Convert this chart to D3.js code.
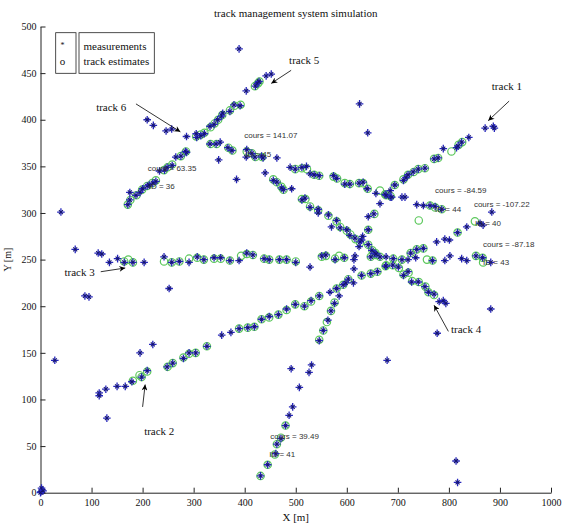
<!DOCTYPE html>
<html><head><meta charset="utf-8">
<script src="https://cdn.jsdelivr.net/npm/d3@7"></script>
<style>
html,body{margin:0;padding:0;background:#fff;}
svg{display:block;}
</style></head>
<body>
<svg id="chart" width="567" height="525"></svg>
<script>
// ---------- DATA ----------
const titleText = "track management system simulation";
const xTicks = [0,100,200,300,400,500,600,700,800,900,1000];
const yTicks = [0,50,100,150,200,250,300,350,400,450,500];

// track A (tracks 5/6 SW-NE line)
const measA = [[171,309],[175,314],[175,322],[187,319],[195,322],[200,326],[209,329],[213,330],[220,332],[226,334],[233,345],[243,346],[248,349],[258,351],[265,360],[275,361],[284,366],[286,365],[306,381],[305,385],[314,383],[321,385],[332,393],[340,395],[347,400],[355,404],[357,407],[371,409],[379,416],[391,415],[403,431],[421,436],[425,439],[428,441],[442,447],[452,449]];
const estA = [[171,309],[176,314],[188,319],[199,325],[209,329],[219,332],[226,335],[242,346],[249,349],[258,352],[275,361],[285,366],[305,382],[314,384],[321,386],[333,392],[341,396],[348,400],[356,405],[371,410],[380,415],[392,416],[420,436],[426,439],[429,441]];

// track B (track 6 -> track 4)
const measB = [[209,400],[221,394],[246,388],[257,390],[286,382],[332,374],[344,374],[352,376],[367,370],[375,367],[404,368],[414,364],[403,360],[420,360],[433,361],[436,359],[456,335],[463,333],[472,327],[476,325],[492,326],[512,314],[518,316],[528,306],[544,304],[544,300],[564,298],[570,285],[580,292],[587,284],[600,282],[606,276],[616,273],[624,264],[642,266],[649,260],[655,257],[677,243],[690,244],[701,242],[711,233],[720,237],[727,226],[740,226],[753,221],[760,215],[771,213],[781,205],[789,206],[794,203]];
const estB = [[333,374],[345,374],[368,370],[376,367],[404,366],[414,364],[421,360],[434,360],[456,336],[463,333],[472,328],[476,325],[512,315],[519,315],[528,307],[544,303],[564,297],[580,291],[587,285],[600,281],[607,277],[617,272],[642,266],[650,260],[656,257],[677,244],[690,244],[702,241],[711,234],[721,236],[728,227],[741,226],[754,221],[760,215],[771,212]];

// track C (ID 44)
const measC = [[489,349],[499,347],[512,349],[521,350],[528,342],[536,341],[546,340],[574,340],[580,337],[596,331],[606,331],[624,332],[632,333],[640,326],[657,321],[675,320],[685,317],[688,317],[708,317],[714,317],[737,309],[750,308],[763,308],[773,307],[786,304]];
const estC = [[499,347],[512,348],[522,347],[536,341],[546,340],[574,339],[581,337],[596,332],[606,331],[624,332],[632,332],[641,326],[665,324],[675,320],[686,318],[741,292],[763,308],[773,306],[786,304]];

// track D (track 1 / ID 41)
const measD = [[431,18],[445,30],[461,42],[463,52],[471,58],[480,72],[487,83],[494,92],[507,113],[546,163],[554,174],[563,185],[569,195],[576,203],[580,219],[593,223],[598,225],[603,229],[613,225],[614,240],[626,269],[629,271],[631,275],[642,282],[642,296],[653,299],[665,310],[677,319],[685,324],[694,330],[711,335],[716,338],[720,341],[730,344],[740,347],[753,348],[771,358],[779,359],[789,369],[815,370],[818,372],[825,376],[839,381],[871,391],[887,393],[889,391]];
const estD = [[431,18],[445,30],[459,41],[463,52],[471,59],[480,72],[546,164],[554,174],[561,183],[569,195],[576,204],[580,219],[593,223],[603,229],[626,268],[642,282],[654,299],[677,319],[694,330],[711,336],[720,341],[731,344],[740,347],[753,348],[771,358],[779,359],[805,366],[819,373],[826,376]];

// track E (track 3, ID 43)
const measE = [[135,247],[151,251],[164,247],[181,247],[203,247],[242,253],[257,247],[272,248],[291,247],[307,253],[320,250],[340,252],[353,252],[371,249],[389,249],[404,257],[416,255],[438,251],[448,250],[468,250],[482,250],[500,247],[551,254],[559,255],[577,250],[595,252],[614,250],[616,254],[647,253],[657,256],[665,253],[677,253],[691,251],[708,250],[720,250],[735,252],[768,249],[792,249],[802,254],[825,251],[835,249],[853,254],[866,252],[882,247]];
const estE = [[164,248],[172,250],[181,247],[242,248],[257,247],[272,248],[291,251],[307,252],[320,250],[340,251],[353,251],[371,249],[393,254],[404,256],[416,255],[438,251],[448,250],[468,250],[482,250],[500,248],[551,253],[559,254],[577,251],[585,254],[595,252],[647,253],[657,255],[665,253],[691,251],[708,250],[757,250],[768,249],[853,254],[866,252],[867,247]];

// track F (track 2, ID 40)
const measF = [[115,107],[115,104],[128,111],[150,114],[166,114],[179,119],[198,124],[209,131],[248,135],[259,139],[280,144],[291,150],[304,150],[326,157],[355,169],[373,172],[389,176],[406,177],[419,178],[433,186],[448,189],[466,191],[482,197],[499,202],[517,200],[530,206],[546,211],[567,215],[585,211],[629,233],[647,235],[660,237],[676,243],[725,257],[737,261],[750,262],[776,269],[792,272],[801,271],[817,279],[835,285],[861,289],[867,287],[884,301]];
const estF = [[181,120],[194,126],[198,124],[209,130],[249,135],[259,139],[280,145],[291,149],[304,150],[326,157],[389,176],[406,177],[419,178],[433,186],[448,188],[466,191],[482,196],[499,202],[517,200],[530,205],[546,211],[629,233],[647,235],[660,237],[676,243],[725,257],[737,261],[750,262],[817,279],[851,291]];

// clutter / isolated measurements
const measClutter = [[389,476],[625,417],[641,386],[28,142],[40,301],[68,261],[113,257],[120,256],[87,211],[95,210],[130,80],[195,150],[220,159],[252,219],[384,336],[349,357],[463,359],[440,343],[491,133],[531,137],[526,129],[679,142],[777,171],[882,197],[528,242],[814,34],[817,11],[1,1],[3,3],[2,5],[5,2],[0,0]];

// track annotations (text, x, y at baseline-left)
const annoText = ["cours = 141.07","ID = 45","cours = 63.35","ID = 36","cours = -84.59","ID = 44","cours = -107.22","ID = 40","cours = -87.18","ID = 43","cours = 39.49","ID = 41"];
const annoX = [399,401,210,212,773,773,849,851,867,867,450,448];
const annoY = [380,360,345,326,321,301,306,286,264,244,58,38];

// track labels with arrows
const labelText = ["track 1","track 2","track 3","track 4","track 5","track 6"];
const labelX = [884,203,47,804,487,109];
const labelY = [432,62,232,171,460,409];
const arrowFrom = [[918,420],[200,92],[118,237],[799,173],[491,453],[187,417]];
const arrowTo = [[877,399],[205,116],[166,241],[771,201],[452,439],[274,387]];

const legendItems = ["measurements","track estimates"];
const legendSymbols = ["*","o"];

// ---------- DRAW ----------
const svg = d3.select("#chart");
const x = d3.scaleLinear().domain([0,1000]).range([40.5,551]);
const y = d3.scaleLinear().domain([0,500]).range([492.7,26.5]);

const serif = "'Liberation Serif','Times New Roman',serif";
const sans = "'Liberation Sans',Arial,sans-serif";

// title
svg.append("text").attr("x",(x(0)+x(1000))/2).attr("y",17)
  .attr("text-anchor","middle").attr("font-family",serif).attr("font-size",11)
  .attr("fill","#111").text(titleText);

// axes
const gx = svg.append("g").attr("transform",`translate(0,${y(0)})`)
  .call(d3.axisBottom(x).tickValues(xTicks).tickSizeInner(-5).tickSizeOuter(0).tickPadding(6).tickFormat(d3.format("d")));
const gy = svg.append("g").attr("transform",`translate(${x(0)},0)`)
  .call(d3.axisLeft(y).tickValues(yTicks).tickSizeInner(-5).tickSizeOuter(0).tickPadding(4).tickFormat(d3.format("d")));
[gx,gy].forEach(g=>{
  g.selectAll("text").attr("font-family",serif).attr("font-size",10).attr("fill","#111");
  g.select(".domain").attr("stroke","#222");
  g.selectAll(".tick line").attr("stroke","#222");
});

svg.append("text").attr("x",(x(0)+x(1000))/2).attr("y",521).attr("text-anchor","middle")
  .attr("font-family",serif).attr("font-size",11).attr("fill","#111").text("X [m]");
svg.append("text").attr("transform",`translate(11,${(y(0)+y(500))/2}) rotate(-90)`)
  .attr("text-anchor","middle").attr("font-family",serif).attr("font-size",10).attr("fill","#111").text("Y [m]");

// data marks
const allEst = [estA,estB,estC,estD,estE,estF];
const allMeas = [measA,measB,measC,measD,measE,measF,measClutter];

const gEst = svg.append("g");
allEst.forEach(arr=>{
  gEst.selectAll(null).data(arr).enter().append("circle")
    .attr("cx",d=>x(d[0])).attr("cy",d=>y(d[1])).attr("r",3.7)
    .attr("fill","none").attr("stroke","#5cc85c").attr("stroke-width",1.2);
});
const starPlus = "M-3.8,0H3.8M0,-3.8V3.8";
const starX = "M-2,-2L2,2M-2,2L2,-2";
const gMeas = svg.append("g");
allMeas.forEach(arr=>{
  const g = gMeas.selectAll(null).data(arr).enter().append("g")
    .attr("transform",d=>`translate(${x(d[0])},${y(d[1])})`);
  g.append("path").attr("d",starPlus).attr("stroke","#2626bc").attr("stroke-width",1.3).attr("fill","none");
  g.append("path").attr("d",starX).attr("stroke","#14146e").attr("stroke-width",1.1).attr("fill","none");
});

// annotations
svg.append("g").selectAll("text").data(annoText).enter().append("text")
  .attr("x",(d,i)=>x(annoX[i])).attr("y",(d,i)=>y(annoY[i]))
  .attr("font-family",sans).attr("font-size",8).attr("fill","#333").text(d=>d);

// arrows
const defs = svg.append("defs");
defs.append("marker").attr("id","ah").attr("viewBox","0 0 10 10").attr("refX",10).attr("refY",5)
  .attr("markerWidth",7).attr("markerHeight",6).attr("markerUnits","userSpaceOnUse").attr("orient","auto")
  .append("path").attr("d","M0,0L10,5L0,10L3,5Z").attr("fill","#000");
svg.append("g").selectAll("line").data(arrowFrom).enter().append("line")
  .attr("x1",d=>x(d[0])).attr("y1",d=>y(d[1]))
  .attr("x2",(d,i)=>x(arrowTo[i][0])).attr("y2",(d,i)=>y(arrowTo[i][1]))
  .attr("stroke","#000").attr("stroke-width",0.8).attr("marker-end","url(#ah)");
svg.append("g").selectAll("text").data(labelText).enter().append("text")
  .attr("x",(d,i)=>x(labelX[i])).attr("y",(d,i)=>y(labelY[i]))
  .attr("font-family",serif).attr("font-size",11).attr("fill","#111").text(d=>d);

// legend
const lg = svg.append("g");
lg.append("rect").attr("x",55.7).attr("y",32.7).attr("width",20.3).attr("height",40.6)
  .attr("fill","#fff").attr("stroke","#222").attr("stroke-width",0.8);
lg.append("rect").attr("x",79).attr("y",32.7).attr("width",75.3).attr("height",40.6)
  .attr("fill","#fff").attr("stroke","#222").attr("stroke-width",0.8);
lg.selectAll("text.sym").data(legendSymbols).enter().append("text").attr("class","sym")
  .attr("x",62.5).attr("y",(d,i)=>i===0?48:65).attr("text-anchor","middle")
  .attr("font-family",serif).attr("font-size",(d,i)=>i===0?8:11).attr("fill","#111").text(d=>d);
lg.selectAll("text.lab").data(legendItems).enter().append("text").attr("class","lab")
  .attr("x",83.5).attr("y",(d,i)=>49.5+i*15.5)
  .attr("font-family",serif).attr("font-size",11).attr("fill","#111").text(d=>d);
</script>
</body></html>
